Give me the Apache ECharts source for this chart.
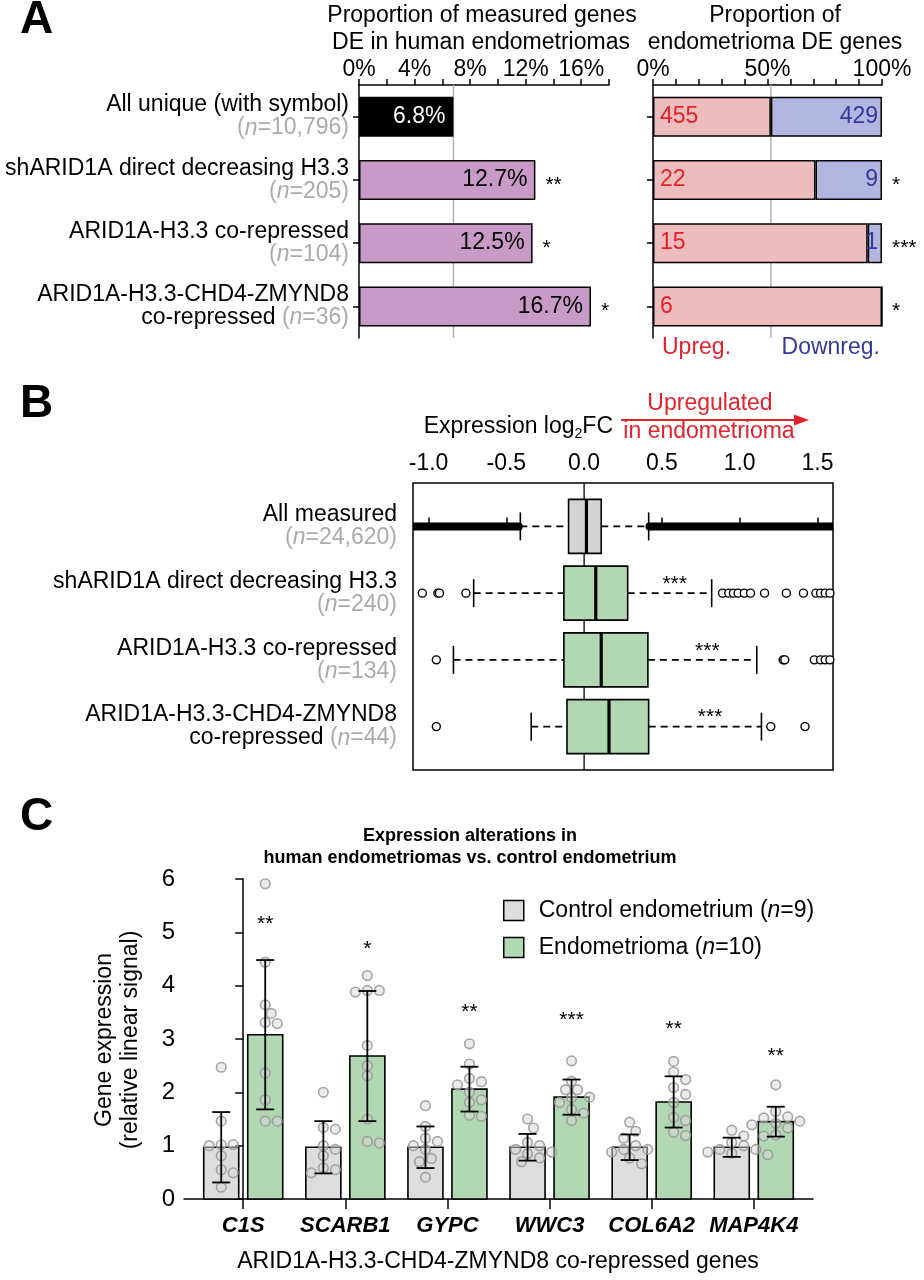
<!DOCTYPE html>
<html>
<head>
<meta charset="utf-8">
<script src="https://cdn.jsdelivr.net/npm/echarts@6.0.0/dist/echarts.min.js"></script>
<style>
html,body{margin:0;padding:0;background:#fff;}
#chart{width:924px;height:1280px;}
</style>
</head>
<body>
<div id="chart"></div>
<script>
// ===== Panel A data =====
const catsA = ['All unique (with symbol)', 'shARID1A direct decreasing H3.3', 'ARID1A-H3.3 co-repressed', 'ARID1A-H3.3-CHD4-ZMYND8\nco-repressed'];
const nA = ['10,796', '205', '104', '36'];
const pctDE = [6.8, 12.7, 12.5, 16.7];
const sigA = ['', '**', '*', '*'];
const upCounts = [455, 22, 15, 6];
const downCounts = [429, 9, 1, 0];
const sigDirA = ['', '*', '***', '*'];
const tickLabelsALeft = [0, 4, 8, 12, 16];
const tickLabelsARight = [0, 50, 100];

// ===== Panel B data =====
const catsB = ['All measured', 'shARID1A direct decreasing H3.3', 'ARID1A-H3.3 co-repressed', 'ARID1A-H3.3-CHD4-ZMYND8\nco-repressed'];
const nB = ['24,620', '240', '134', '44'];
const whiskerLowB = [-0.41, -0.71, -0.84, -0.34];
const q1B = [-0.10, -0.13, -0.13, -0.11];
const medianB = [0.015, 0.075, 0.11, 0.16];
const q3B = [0.11, 0.28, 0.41, 0.415];
const whiskerHighB = [0.415, 0.82, 1.11, 1.14];
const allMeasuredOutlierRanges = [[-1.1, -0.42], [0.42, 1.6]];
const outliersB = [
  [],
  [-1.04, -0.94, -0.93, -0.76, 0.89, 0.93, 0.96, 0.99, 1.03, 1.07, 1.16, 1.30, 1.41, 1.49, 1.52, 1.55, 1.58],
  [-0.95, 1.28, 1.29, 1.48, 1.52, 1.55, 1.58],
  [-0.95, 1.20, 1.42]
];
const sigB = ['', '***', '***', '***'];
const tickLabelsB = [-1.0, -0.5, 0.0, 0.5, 1.0, 1.5];

// ===== Panel C data =====
const genesC = ['C1S', 'SCARB1', 'GYPC', 'WWC3', 'COL6A2', 'MAP4K4'];
const ctrlMean = [0.97, 0.97, 0.97, 0.97, 0.97, 0.97];
const ctrlSD = [0.66, 0.49, 0.39, 0.25, 0.24, 0.18];
const endoMean = [3.08, 2.68, 2.06, 1.91, 1.82, 1.45];
const endoSD = [1.40, 1.22, 0.42, 0.33, 0.48, 0.28];
const ctrlDots = [
  [2.47, 1.46, 1.02, 1.02, 1.00, 0.81, 0.55, 0.49, 0.22],
  [2.00, 1.34, 1.31, 1.00, 0.93, 0.81, 0.58, 0.55, 0.49],
  [1.75, 1.36, 1.14, 1.08, 1.00, 0.93, 0.76, 0.70, 0.41],
  [1.50, 1.33, 1.06, 1.00, 0.93, 0.88, 0.85, 0.77, 0.70],
  [1.44, 1.27, 1.14, 1.00, 0.93, 0.93, 0.88, 0.77, 0.66],
  [1.29, 1.18, 1.06, 1.00, 0.93, 0.93, 0.88, 0.86, 0.83]
];
const endoDots = [
  [5.91, 4.44, 3.64, 3.48, 3.31, 3.29, 2.36, 1.86, 1.46, 1.46],
  [4.19, 3.91, 3.91, 3.88, 2.88, 2.50, 2.31, 1.50, 1.08, 1.05],
  [2.91, 2.53, 2.26, 2.20, 2.14, 2.00, 1.86, 1.81, 1.57, 1.55],
  [2.59, 2.21, 2.05, 2.05, 1.91, 1.90, 1.81, 1.68, 1.61, 1.47],
  [2.58, 2.38, 2.24, 2.09, 1.96, 1.81, 1.53, 1.47, 1.25, 1.19],
  [2.14, 1.64, 1.54, 1.52, 1.46, 1.42, 1.39, 1.33, 1.20, 1.18]
];
const sigC = ['**', '*', '**', '***', '**', '**'];
const sigHeightC = [5.24, 4.77, 3.59, 3.44, 3.28, 2.78];
const legendC = ['Control endometrium (n=9)', 'Endometrioma (n=10)'];

// ===== styles =====
const FONT = "'Liberation Sans', Arial, Helvetica, sans-serif";
const FS = 23;
const PURPLE = '#c79ac7', PINK = '#edbdbd', BLUE = '#b3b6e0', RED = '#e4222b', DBLUE = '#35399a';
const GREEN = '#b1d8b3', GREYBOX = '#d4d4d4', GREYBAR = '#dddddd', NGREY = '#ababab';

function richLabel(fs, lh) {
  return {
    k: {color: '#000', fontSize: fs, lineHeight: lh, align: 'right', fontFamily: FONT},
    g: {color: NGREY, fontSize: fs, lineHeight: lh, align: 'right', fontFamily: FONT},
    gi: {color: NGREY, fontSize: fs, lineHeight: lh, align: 'right', fontStyle: 'italic', fontFamily: FONT}
  };
}
function catLabel(name, n) {
  const parts = name.split('\n');
  const l2 = (parts[1] ? '{k|' + parts[1] + ' }' : '') + '{g|(}{gi|n}{g|=' + n + ')}';
  return '{k|' + parts[0] + '}\n' + l2;
}
function vlineRender(color, width) {
  return (params, api) => {
    const x = api.coord([api.value(0), api.value(1)])[0];
    const cs = params.coordSys;
    return {type: 'line', shape: {x1: x, y1: cs.y, x2: x, y2: cs.y + cs.height}, style: {stroke: color, lineWidth: width}};
  };
}
function starText(txt, x, y, align) {
  return {type: 'text', x: x, y: y, style: {text: txt, fontSize: 21, fontFamily: FONT, fill: '#000', align: align || 'left', verticalAlign: 'middle'}};
}

const upPct = upCounts.map((u, i) => u / (u + downCounts[i]) * 100);
const downPct = downCounts.map((d, i) => d / (upCounts[i] + d) * 100);

function barRender(color, offset) {
  return (params, api) => {
    const i = api.value(0);
    const top = api.coord([i, api.value(1)]);
    const base = api.coord([i, 0]);
    const w = 35;
    return {type: 'rect', shape: {x: top[0] + offset - w / 2, y: top[1], width: w, height: base[1] - top[1]},
      style: {fill: color, stroke: '#000', lineWidth: 1.6}};
  };
}
function errRender(offset) {
  return (params, api) => {
    const i = api.value(0), m = api.value(1), s = api.value(2);
    const hi = api.coord([i, m + s]), lo = api.coord([i, m - s]);
    const x = hi[0] + offset, cw = 9;
    const st = {stroke: '#000', lineWidth: 1.8};
    return {type: 'group', children: [
      {type: 'line', shape: {x1: x, y1: hi[1], x2: x, y2: lo[1]}, style: st},
      {type: 'line', shape: {x1: x - cw, y1: hi[1], x2: x + cw, y2: hi[1]}, style: st},
      {type: 'line', shape: {x1: x - cw, y1: lo[1], x2: x + cw, y2: lo[1]}, style: st}
    ]};
  };
}
function dotsRender(dotsArr, offset) {
  return (params, api) => {
    const i = api.value(0);
    const cx = api.coord([i, 0])[0] + offset;
    const r = 4.8, minD = 2 * r * 1.0, step = 6;
    const ys = dotsArr[i].map(v => api.coord([i, v])[1]).sort((a, b) => a - b);
    const placed = [], children = [];
    ys.forEach(y => {
      let dx = 0;
      for (let k = 0; k < 40; k++) {
        const cand = k === 0 ? 0 : (k % 2 ? 1 : -1) * Math.ceil(k / 2) * step;
        if (placed.every(p => Math.hypot(p[0] - cand, p[1] - y) >= minD)) { dx = cand; break; }
      }
      placed.push([dx, y]);
      children.push({type: 'circle', shape: {cx: cx + dx, cy: y, r: r},
        style: {fill: 'rgba(215,215,215,0.5)', stroke: 'rgba(150,150,150,0.85)', lineWidth: 1.6}});
    });
    return {type: 'group', children: children};
  };
}

const chart = echarts.init(document.getElementById('chart'), null, {renderer: 'canvas'});

const axisLineBlack = {show: true, lineStyle: {color: '#000', width: 1.5}};
const tickBlack = (len) => ({show: true, length: len, lineStyle: {color: '#000', width: 1.5}});
const txt = (s, x, y, opt) => Object.assign({type: 'text', x: x, y: y, style: Object.assign({text: s, font: FS + 'px ' + FONT, fill: '#000', textAlign: 'center', textVerticalAlign: 'middle'}, opt || {})});

const option = {
  animation: false,
  backgroundColor: '#fff',
  textStyle: {fontFamily: FONT, color: '#000'},
  grid: [
    {left: 359, top: 85, width: 250, height: 253},
    {left: 653, top: 85, width: 229, height: 253},
    {left: 413, top: 483, width: 420, height: 287, show: true, borderColor: '#000', borderWidth: 1.5, backgroundColor: 'rgba(0,0,0,0)'},
    {left: 184, top: 879, width: 629, height: 320}
  ],
  xAxis: [
    {gridIndex: 0, type: 'value', position: 'top', min: 0, max: 18, interval: 2,
      axisLine: axisLineBlack, axisTick: tickBlack(6), splitLine: {show: false},
      axisLabel: {customValues: tickLabelsALeft, formatter: v => v + '%', fontSize: FS, color: '#000', margin: 4}},
    {gridIndex: 1, type: 'value', position: 'top', min: 0, max: 100, interval: 10,
      axisLine: axisLineBlack, axisTick: tickBlack(6), splitLine: {show: false},
      axisLabel: {customValues: tickLabelsARight, formatter: v => v + '%', fontSize: FS, color: '#000', margin: 4}},
    {gridIndex: 2, type: 'value', position: 'top', min: -1.1, max: 1.6,
      axisLine: {show: false}, splitLine: {show: false},
      axisTick: {show: true, customValues: tickLabelsB, length: 9, lineStyle: {color: '#000', width: 1.5}},
      axisLabel: {customValues: tickLabelsB, formatter: v => v.toFixed(1), fontSize: FS, color: '#000', margin: 8}},
    {gridIndex: 3, type: 'value', min: -0.58, max: 5.58,
      axisLine: axisLineBlack, splitLine: {show: false},
      axisTick: {show: true, customValues: genesC.map((g, i) => i), length: 10, lineStyle: {color: '#000', width: 1.5}},
      axisLabel: {customValues: genesC.map((g, i) => i), formatter: v => genesC[v], fontSize: 22, fontWeight: 'bold', fontStyle: 'italic', color: '#000', margin: 16}}
  ],
  yAxis: [
    {gridIndex: 0, type: 'category', data: catsA, inverse: true,
      axisLine: axisLineBlack, axisTick: Object.assign(tickBlack(6), {alignWithLabel: true}),
      axisLabel: {interval: 0, margin: 10, formatter: (v, i) => catLabel(v, nA[i]), rich: richLabel(FS, 23)}},
    {gridIndex: 1, type: 'category', data: catsA, inverse: true,
      axisLine: axisLineBlack, axisTick: Object.assign(tickBlack(6), {alignWithLabel: true}),
      axisLabel: {show: false}},
    {gridIndex: 2, type: 'value', inverse: true, min: -0.65, max: 3.65,
      axisLine: {show: false}, splitLine: {show: false},
      axisTick: {show: true, customValues: [0, 1, 2, 3], length: 9, lineStyle: {color: '#000', width: 1.5}},
      axisLabel: {customValues: [0, 1, 2, 3], margin: 16, formatter: v => catLabel(catsB[v], nB[v]), rich: richLabel(FS, 23)}},
    {gridIndex: 3, type: 'value', min: 0, max: 6, interval: 1,
      axisLine: axisLineBlack, axisTick: tickBlack(8), splitLine: {show: false},
      axisLabel: {fontSize: 24, color: '#000', margin: 9}}
  ],
  legend: {
    data: [
      {name: legendC[0], icon: 'rect', itemStyle: {color: GREYBAR, borderColor: '#000', borderWidth: 1.5}},
      {name: legendC[1], icon: 'rect', itemStyle: {color: GREEN, borderColor: '#000', borderWidth: 1.5}}
    ],
    orient: 'vertical', left: 503, top: 899, itemWidth: 20, itemHeight: 20, itemGap: 14,
    selectedMode: false, padding: 0,
    formatter: name => { const m = name.match(/^(.*)\(n=(\d+)\)$/); return m[1] + '({i|n}=' + m[2] + ')'; },
    textStyle: {fontSize: FS, color: '#000', padding: [0, 0, 0, 10], rich: {i: {fontStyle: 'italic', fontSize: FS, fontFamily: FONT}}}
  },
  graphic: {elements: [
    txt('A', 20, 20, {font: 'bold 46px ' + FONT, textAlign: 'left'}),
    txt('B', 20, 404, {font: 'bold 46px ' + FONT, textAlign: 'left'}),
    txt('C', 20, 817, {font: 'bold 46px ' + FONT, textAlign: 'left'}),
    txt('Proportion of measured genes', 482, 16),
    txt('DE in human endometriomas', 481, 43),
    txt('Proportion of', 775, 16),
    txt('endometrioma DE genes', 775, 43),
    txt('Upreg.', 662, 348, {fill: RED, textAlign: 'left'}),
    txt('Downreg.', 880, 348, {fill: DBLUE, textAlign: 'right'}),
    {type: 'text', x: 613, y: 427, style: {text: '{a|Expression log}{s|2}{a|FC}', textAlign: 'right', textVerticalAlign: 'middle',
      rich: {a: {fontSize: FS, lineHeight: 28, fill: '#000', fontFamily: FONT}, s: {fontSize: 14, lineHeight: 14, verticalAlign: 'bottom', fill: '#000', fontFamily: FONT}}}},
    txt('Upregulated', 710, 404, {fill: RED}),
    txt('in endometrioma', 709, 432, {fill: RED}),
    {type: 'line', shape: {x1: 621, y1: 420, x2: 798, y2: 420}, style: {stroke: RED, lineWidth: 2}},
    {type: 'polygon', shape: {points: [[809, 420], [794, 414.5], [794, 425.5]]}, style: {fill: RED}},
    txt('Expression alterations in', 470, 836, {font: 'bold 18px ' + FONT}),
    txt('human endometriomas vs. control endometrium', 470, 858, {font: 'bold 18px ' + FONT}),
    {type: 'text', x: 118, y: 1040, rotation: Math.PI / 2, style: {text: 'Gene expression\n(relative linear signal)', font: FS + 'px ' + FONT, lineHeight: 26, fill: '#000', textAlign: 'center', textVerticalAlign: 'middle'}},
    txt('ARID1A-H3.3-CHD4-ZMYND8 co-repressed genes', 498, 1262)
  ]},
  series: [
    // ---- Panel A left
    {type: 'custom', xAxisIndex: 0, yAxisIndex: 0, z: 1, silent: true, data: [[pctDE[0], 0]], renderItem: vlineRender('#b3b3b3', 1.5)},
    {type: 'bar', xAxisIndex: 0, yAxisIndex: 0, z: 2, barWidth: 40,
      data: pctDE.map((v, i) => ({value: v, itemStyle: {color: i === 0 ? '#000' : PURPLE}, label: {color: i === 0 ? '#fff' : '#000'}})),
      itemStyle: {borderColor: '#000', borderWidth: 1.5},
      label: {show: true, position: 'insideRight', distance: 8, fontSize: FS, formatter: p => p.value + '%'}},
    {type: 'custom', xAxisIndex: 0, yAxisIndex: 0, z: 3, silent: true, data: pctDE.map((v, i) => [v, i]),
      renderItem: (params, api) => { const p = api.coord([api.value(0), api.value(1)]); return starText(sigA[params.dataIndex], p[0] + 10, p[1] + 5); }},
    // ---- Panel A right
    {type: 'custom', xAxisIndex: 1, yAxisIndex: 1, z: 1, silent: true, data: [[upPct[0], 0]], renderItem: vlineRender('#b3b3b3', 1.5)},
    {type: 'bar', xAxisIndex: 1, yAxisIndex: 1, z: 2, stack: 'dir', barWidth: 40, data: upPct,
      itemStyle: {color: PINK, borderColor: '#000', borderWidth: 1.5},
      label: {show: true, position: 'insideLeft', distance: 7, fontSize: FS, color: RED, formatter: p => upCounts[p.dataIndex]}},
    {type: 'bar', xAxisIndex: 1, yAxisIndex: 1, z: 2, stack: 'dir', barWidth: 40, data: downPct,
      itemStyle: {color: BLUE, borderColor: '#000', borderWidth: 1.5},
      label: {show: true, position: 'insideRight', distance: 4, fontSize: FS, color: DBLUE, formatter: p => downCounts[p.dataIndex] ? downCounts[p.dataIndex] : ''}},
    {type: 'custom', xAxisIndex: 1, yAxisIndex: 1, z: 3, silent: true, data: sigDirA.map((s, i) => [100, i]),
      renderItem: (params, api) => { const p = api.coord([api.value(0), api.value(1)]); return starText(sigDirA[params.dataIndex], p[0] + 10, p[1] + 5); }},
    // ---- Panel B
    {type: 'custom', xAxisIndex: 2, yAxisIndex: 2, z: 1, silent: true, data: [[0, 0]], renderItem: vlineRender('#000', 1.3)},
    {type: 'custom', xAxisIndex: 2, yAxisIndex: 2, z: 2, silent: true, clip: true,
      data: allMeasuredOutlierRanges.map(r => [r[0], r[1]]),
      renderItem: (params, api) => {
        const a = api.coord([api.value(0), 0]), b = api.coord([api.value(1), 0]);
        return {type: 'line', shape: {x1: a[0], y1: a[1], x2: b[0], y2: b[1]}, style: {stroke: '#000', lineWidth: 8, lineCap: 'round'}};
      }},
    {type: 'custom', xAxisIndex: 2, yAxisIndex: 2, z: 3, silent: true,
      data: catsB.map((c, i) => [i, whiskerLowB[i], q1B[i], medianB[i], q3B[i], whiskerHighB[i]]),
      renderItem: (params, api) => {
        const row = api.value(0);
        const P = v => api.coord([v, row]);
        const wl = P(api.value(1)), a = P(api.value(2)), m = P(api.value(3)), b = P(api.value(4)), wh = P(api.value(5));
        const y = wl[1], h = 54, cap = 28;
        const dash = {stroke: '#000', lineWidth: 1.6, lineDash: [7, 5]};
        const solid = {stroke: '#000', lineWidth: 1.6};
        return {type: 'group', children: [
          {type: 'line', shape: {x1: wl[0], y1: y, x2: a[0], y2: y}, style: dash},
          {type: 'line', shape: {x1: b[0], y1: y, x2: wh[0], y2: y}, style: dash},
          {type: 'line', shape: {x1: wl[0], y1: y - cap / 2, x2: wl[0], y2: y + cap / 2}, style: solid},
          {type: 'line', shape: {x1: wh[0], y1: y - cap / 2, x2: wh[0], y2: y + cap / 2}, style: solid},
          {type: 'rect', shape: {x: a[0], y: y - h / 2, width: b[0] - a[0], height: h}, style: {fill: row === 0 ? GREYBOX : GREEN, stroke: '#000', lineWidth: 1.6}},
          {type: 'line', shape: {x1: m[0], y1: y - h / 2, x2: m[0], y2: y + h / 2}, style: {stroke: '#000', lineWidth: 3.2}}
        ]};
      }},
    {type: 'scatter', xAxisIndex: 2, yAxisIndex: 2, z: 4, silent: true, symbol: 'circle', symbolSize: 8,
      data: [].concat(...outliersB.map((arr, row) => arr.map(v => [v, row]))),
      itemStyle: {color: '#fff', borderColor: '#000', borderWidth: 1.4, opacity: 1}},
    {type: 'custom', xAxisIndex: 2, yAxisIndex: 2, z: 5, silent: true,
      data: catsB.map((c, i) => [(q3B[i] + whiskerHighB[i]) / 2, i]),
      renderItem: (params, api) => {
        const p = api.coord([api.value(0), api.value(1)]);
        return starText(sigB[params.dataIndex], p[0] + 5, p[1] - 9, 'center');
      }},
    // ---- Panel C
    {type: 'custom', name: legendC[0], xAxisIndex: 3, yAxisIndex: 3, z: 2, itemStyle: {color: GREYBAR},
      data: genesC.map((g, i) => [i, ctrlMean[i]]), renderItem: barRender(GREYBAR, -22)},
    {type: 'custom', name: legendC[1], xAxisIndex: 3, yAxisIndex: 3, z: 2, itemStyle: {color: GREEN},
      data: genesC.map((g, i) => [i, endoMean[i]]), renderItem: barRender(GREEN, 22)},
    {type: 'custom', xAxisIndex: 3, yAxisIndex: 3, z: 3, silent: true,
      data: genesC.map((g, i) => [i, 0]), renderItem: dotsRender(ctrlDots, -22)},
    {type: 'custom', xAxisIndex: 3, yAxisIndex: 3, z: 3, silent: true,
      data: genesC.map((g, i) => [i, 0]), renderItem: dotsRender(endoDots, 22)},
    {type: 'custom', xAxisIndex: 3, yAxisIndex: 3, z: 4, silent: true,
      data: genesC.map((g, i) => [i, ctrlMean[i], ctrlSD[i]]), renderItem: errRender(-22)},
    {type: 'custom', xAxisIndex: 3, yAxisIndex: 3, z: 4, silent: true,
      data: genesC.map((g, i) => [i, endoMean[i], endoSD[i]]), renderItem: errRender(22)},
    {type: 'custom', xAxisIndex: 3, yAxisIndex: 3, z: 5, silent: true,
      data: genesC.map((g, i) => [i, sigHeightC[i]]),
      renderItem: (params, api) => {
        const p = api.coord([api.value(0), api.value(1)]);
        return starText(sigC[params.dataIndex], p[0] + 22, p[1] + 5, 'center');
      }}
  ]
};
chart.setOption(option);
</script>
</body>
</html>
